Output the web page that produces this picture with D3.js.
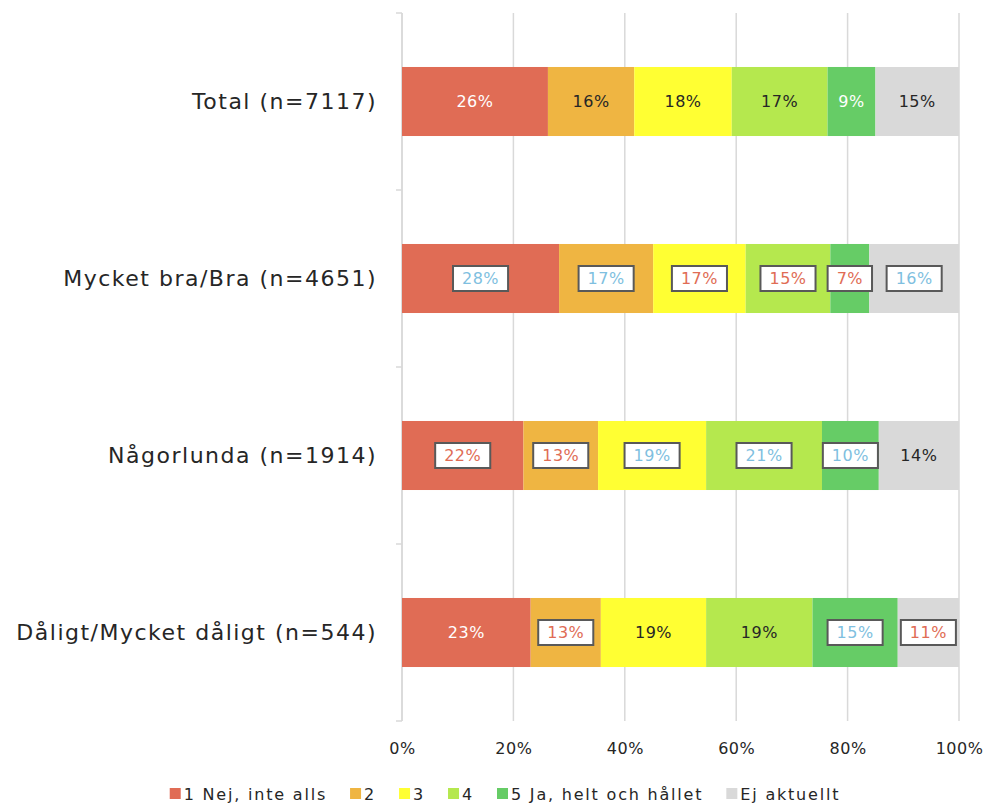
<!DOCTYPE html>
<html lang="sv">
<head>
<meta charset="UTF-8">
<title>Stacked bars</title>
<script src="https://cdn.jsdelivr.net/npm/d3@7"></script>
<style>
  body { margin: 0; background: #fff; font-family: 'DejaVu Sans', sans-serif; }
  svg text { fill: #262626; }
</style>
</head>
<body>
<svg id="chart"></svg>
<script>
const categories = ["Total (n=7117)", "Mycket bra/Bra (n=4651)", "Någorlunda (n=1914)", "Dåligt/Mycket dåligt (n=544)"];
const seriesNames = ["1 Nej, inte alls", "2", "3", "4", "5 Ja, helt och hållet", "Ej aktuellt"];
const nej = [26.2, 28.2, 21.8, 23.1];
const two = [15.5, 16.9, 13.4, 12.6];
const three = [17.5, 16.6, 19.4, 18.9];
const four = [17.2, 15.2, 20.8, 19.1];
const ja = [8.6, 7.0, 10.2, 15.3];
const ejAktuellt = [15.0, 16.1, 14.4, 11.0];
const xTicks = [0, 20, 40, 60, 80, 100];

// how each data label is drawn: w = white text, d = dark text, R = red in box, B = blue in box
const labelKinds = [
  ["w", "d", "d", "d", "w", "d"],
  ["B", "B", "R", "R", "R", "B"],
  ["R", "R", "B", "B", "B", "d"],
  ["w", "R", "d", "d", "B", "R"]
];

const colors = ["#E06C55", "#EFB542", "#FFFF33", "#B5E84E", "#66CC66", "#D9D9D9"];
const allSeries = [nej, two, three, four, ja, ejAktuellt];

const W = 984, H = 805;
const margin = { top: 13, right: 25, bottom: 84, left: 402 };
const width = W - margin.left - margin.right;
const height = H - margin.top - margin.bottom;

const rows = categories.map((c, i) => {
  const r = { cat: c, idx: i };
  seriesNames.forEach((s, j) => r[s] = allSeries[j][i]);
  return r;
});

const stacked = d3.stack().keys(seriesNames)(rows);

const svg = d3.select('#chart').attr('width', W).attr('height', H);
const g = svg.append('g').attr('transform', `translate(${margin.left},${margin.top})`);

const x = d3.scaleLinear().domain([0, 100]).range([0, width]);
const y = d3.scaleBand().domain(categories).range([0, height])
  .paddingInner(0.61).paddingOuter(0.305);

// gridlines
g.append('g').selectAll('line').data(xTicks).enter().append('line')
  .attr('x1', d => x(d)).attr('x2', d => x(d))
  .attr('y1', 0).attr('y2', height)
  .attr('stroke', '#D9D9D9').attr('stroke-width', 1.5);

// x tick labels
g.append('g').attr('transform', `translate(0,${height})`)
  .call(d3.axisBottom(x).tickValues(xTicks).tickFormat(d => d + '%').tickSize(0).tickPadding(22))
  .call(a => a.select('.domain').remove())
  .selectAll('text').style('font-size', '16px').style('font-family', "'DejaVu Sans', sans-serif")
  .attr('fill', '#262626').attr('letter-spacing', '0.5px');

// y axis: labels at centre, ticks at band boundaries
g.append('g')
  .call(d3.axisLeft(y).tickSize(0).tickPadding(25))
  .call(a => a.select('.domain').remove())
  .selectAll('text').style('font-size', '22px').style('font-family', "'DejaVu Sans', sans-serif")
  .attr('fill', '#262626').attr('letter-spacing', '1.5px');

const step = y.step();
const bounds = d3.range(categories.length + 1).map(i => i * step);
g.append('line').attr('x1', 0).attr('x2', 0).attr('y1', 0).attr('y2', height)
  .attr('stroke', '#D9D9D9').attr('stroke-width', 1.5);
g.append('g').selectAll('line').data(bounds).enter().append('line')
  .attr('x1', -6).attr('x2', 0).attr('y1', d => d).attr('y2', d => d)
  .attr('stroke', '#D9D9D9').attr('stroke-width', 1.5);

// bars
const layer = g.append('g').selectAll('g').data(stacked).enter().append('g')
  .attr('fill', (d, i) => colors[i]);

layer.selectAll('rect').data(d => d).enter().append('rect')
  .attr('x', d => x(d[0]))
  .attr('y', d => y(d.data.cat))
  .attr('width', d => x(d[1]) - x(d[0]))
  .attr('height', y.bandwidth());

// data labels
const labels = g.append('g');
stacked.forEach((s, j) => {
  s.forEach(d => {
    const i = d.data.idx;
    const kind = labelKinds[i][j];
    const cx = (x(d[0]) + x(d[1])) / 2;
    const cy = y(d.data.cat) + y.bandwidth() / 2;
    const txt = Math.round(d[1] - d[0]) + '%';
    const lg = labels.append('g').attr('transform', `translate(${cx},${cy})`);
    const t = lg.append('text')
      .attr('text-anchor', 'middle').attr('dy', '0.36em')
      .style('font-size', '16px').attr('letter-spacing', '0.5px')
      .text(txt);
    if (kind === 'w') t.style('fill', '#ffffff');
    else if (kind === 'd') t.style('fill', '#262626');
    else {
      t.style('fill', kind === 'R' ? '#E06C55' : '#7FBFE0');
      const tw = t.node().getComputedTextLength();
      lg.insert('rect', 'text')
        .attr('x', -tw / 2 - 9).attr('y', -12.5)
        .attr('width', tw + 18).attr('height', 25)
        .attr('fill', '#fff').attr('stroke', '#595959').attr('stroke-width', 2);
    }
  });
});

// legend
const legend = svg.append('g');
let lx = 0;
seriesNames.forEach((s, j) => {
  const item = legend.append('g').attr('transform', `translate(${lx},0)`);
  item.append('rect').attr('x', 0).attr('y', -12).attr('width', 11).attr('height', 11).attr('fill', colors[j]);
  const t = item.append('text').attr('x', 14).attr('y', 0)
    .style('font-size', '16px').attr('letter-spacing', '1.8px').text(s);
  lx += 14 + t.node().getComputedTextLength() + 23;
});
lx -= 23;
legend.attr('transform', `translate(${505 - lx / 2},${H - 5})`);
</script>
</body>
</html>
